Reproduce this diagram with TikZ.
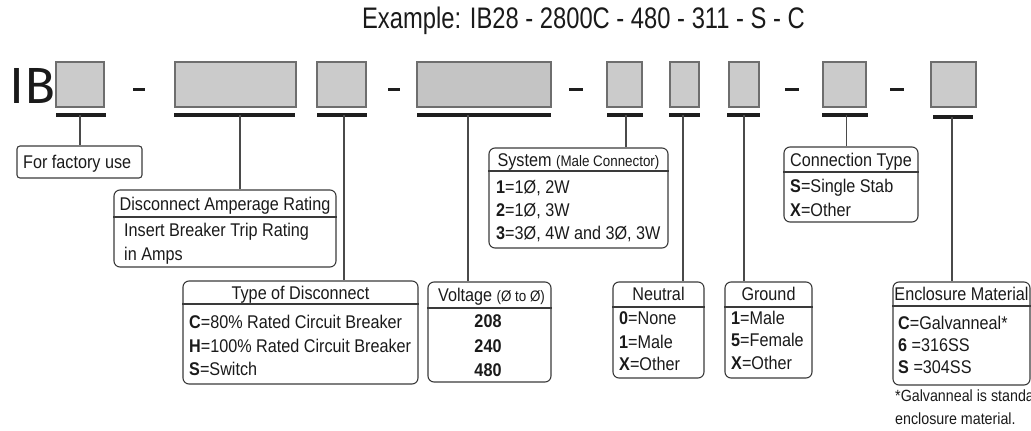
\documentclass[tikz,border=0pt]{standalone}
\usepackage{fontspec}
\setmainfont{Liberation Sans}[FakeStretch=0.88]
\newfontfamily\titlefont{Liberation Sans}[FakeStretch=0.8]
\newfontfamily\ibfont{Fira Sans}
\usepackage{graphicx}
\definecolor{boxfill}{HTML}{CBCBCB}
\definecolor{boxfillb}{HTML}{C4C4C4}
\definecolor{boxborder}{HTML}{6E6E6E}
\definecolor{barcol}{HTML}{1E1E1E}
\definecolor{conncol}{HTML}{4A4A4A}
\definecolor{lbcol}{HTML}{3A3A3A}
\definecolor{txtcol}{HTML}{1A1A1A}
\newcommand\fsn{\fontsize{18.4pt}{22pt}\selectfont}
\newcommand\fss{\fontsize{15.2pt}{18pt}\selectfont}
\newcommand\fsf{\fontsize{16.2pt}{19pt}\selectfont}
\begin{document}
\begin{tikzpicture}[x=1pt,y=-1pt,
  tbox/.style={draw=boxborder, fill=boxfill, line width=2.2pt, inner sep=0pt, minimum height=45pt},
  ubar/.style={draw=barcol, line width=3.2pt},
  dashbar/.style={draw=barcol, line width=3.8pt},
  conn/.style={draw=conncol, line width=1.3pt},
  lbox/.style={draw=lbcol, line width=1.1pt, rounded corners=6pt, inner sep=0pt},
  sepline/.style={draw=lbcol, line width=1.1pt},
  txt/.style={inner sep=0pt, anchor=base west, font=\fsn, text=txtcol},
  hdr/.style={inner sep=0pt, anchor=base, font=\fsn, text=txtcol},
  foot/.style={inner sep=0pt, anchor=base west, font=\fsf, text=txtcol}]
\useasboundingbox (0,0) rectangle (1031,431);

% title
\node[inner sep=0pt, anchor=base, text=txtcol, font={\titlefont\fontsize{29.7pt}{34pt}\selectfont}] (title) at (583.5,28) {Example: IB28 - 2800C - 480 - 311 - S - C};

% IB prefix
\node[inner sep=0pt, anchor=base west, text=txtcol] (ib) at (9,103) {\resizebox{!}{35pt}{\ibfont IB}};

% top code boxes
\node[tbox, minimum width=48pt] (b1) at (80,84.5) {};
\node[tbox, minimum width=121pt] (b2) at (235.5,84.5) {};
\node[tbox, minimum width=49pt] (b3) at (341.5,84.5) {};
\node[tbox, fill=boxfillb, minimum width=134pt] (b4) at (484,84.5) {};
\node[tbox, minimum width=35pt] (b5) at (624.5,84.5) {};
\node[tbox, minimum width=29pt] (b6) at (684.5,84.5) {};
\node[tbox, minimum width=30pt] (b7) at (744,84.5) {};
\node[tbox, minimum width=43pt] (b8) at (844.5,84.5) {};
\node[tbox, minimum width=45pt] (b9) at (953.5,84.5) {};

% dashes
\draw[dashbar] (133,89.5) -- (145,89.5);
\draw[dashbar] (388,89.5) -- (400,89.5);
\draw[dashbar] (569,89.5) -- (583,89.5);
\draw[dashbar] (785,89.5) -- (799,89.5);
\draw[dashbar] (890,89.5) -- (904,89.5);

% underbars
\draw[ubar] (56,115) -- (106,115);
\draw[ubar] (174,115) -- (295,115);
\draw[ubar] (317,115) -- (367,115);
\draw[ubar] (417,115) -- (551,115);
\draw[ubar] (607,115) -- (643,115);
\draw[ubar] (669,115) -- (700,115);
\draw[ubar] (727,115) -- (760,115);
\draw[ubar] (822,115) -- (868,115);
\draw[ubar] (933,117) -- (973,117);

% connector start points
\coordinate (u1) at (80,115);
\coordinate (u2) at (240,115);
\coordinate (u3) at (344,115);
\coordinate (u4) at (468,115);
\coordinate (u5) at (626,115);
\coordinate (u6) at (683,115);
\coordinate (u7) at (744,115);
\coordinate (u8) at (846.5,115);
\coordinate (u9) at (952,117);

% lower boxes
\node[lbox, rounded corners=3pt, minimum width=125pt, minimum height=32pt] (fac) at (79.5,162) {};
\node[lbox, minimum width=222pt, minimum height=77pt] (dar) at (225,228.5) {};
\node[lbox, minimum width=235pt, minimum height=103pt] (tod) at (300.5,332.5) {};
\node[lbox, minimum width=123pt, minimum height=100pt] (volt) at (489.5,332) {};
\node[lbox, minimum width=179pt, minimum height=100pt] (sys) at (578.5,198) {};
\node[lbox, minimum width=91pt, minimum height=96pt] (neu) at (658.5,330) {};
\node[lbox, minimum width=87pt, minimum height=96pt] (gnd) at (768.5,330) {};
\node[lbox, minimum width=134pt, minimum height=75pt] (con) at (851,184.5) {};
\node[lbox, minimum width=137pt, minimum height=103pt] (enc) at (961.5,333.5) {};

% header separators
\draw[sepline] (dar.west |- 0,217) -- (dar.east |- 0,217);
\draw[sepline] (tod.west |- 0,304) -- (tod.east |- 0,304);
\draw[sepline] (volt.west |- 0,308) -- (volt.east |- 0,308);
\draw[sepline] (sys.west |- 0,171) -- (sys.east |- 0,171);
\draw[sepline] (neu.west |- 0,307) -- (neu.east |- 0,307);
\draw[sepline] (gnd.west |- 0,307) -- (gnd.east |- 0,307);
\draw[sepline] (con.west |- 0,172) -- (con.east |- 0,172);
\draw[sepline] (enc.west |- 0,306) -- (enc.east |- 0,306);

% connectors
\draw[conn] (u1) -- (u1 |- fac.north);
\draw[conn] (u2) -- (u2 |- dar.north);
\draw[conn] (u3) -- (u3 |- tod.north);
\draw[conn] (u4) -- (u4 |- volt.north);
\draw[conn] (u5) -- (u5 |- sys.north);
\draw[conn] (u6) -- (u6 |- neu.north);
\draw[conn] (u7) -- (u7 |- gnd.north);
\draw[conn] (u8) -- (u8 |- con.north);
\draw[conn] (u9) -- (u9 |- enc.north);

% texts
\node[txt] (tfac) at (23,168.6) {For factory use};

\node[hdr] (hdar) at (225,210.6) {Disconnect Amperage Rating};
\node[txt] (dar1) at (124,236.6) {Insert Breaker Trip Rating};
\node[txt] (dar2) at (124,260.6) {in Amps};

\node[hdr] (htod) at (300.5,299.6) {Type of Disconnect};
\node[txt] (tod1) at (189,328.6) {\textbf{C}=80\% Rated Circuit Breaker};
\node[txt] (tod2) at (189,352.6) {\textbf{H}=100\% Rated Circuit Breaker};
\node[txt] (tod3) at (189,375.6) {\textbf{S}=Switch};

\node[hdr] (hvolt) at (491.5,301.6) {Voltage {\fss(Ø to Ø)}};
\node[hdr, font=\fsn\bfseries] (volt1) at (488,327.6) {208};
\node[hdr, font=\fsn\bfseries] (volt2) at (488,352.1) {240};
\node[hdr, font=\fsn\bfseries] (volt3) at (488,376.6) {480};

\node[hdr] (hsys) at (578.5,166.6) {System {\fss(Male Connector)}};
\node[txt] (sys1) at (496,193.6) {\textbf{1}=1Ø, 2W};
\node[txt] (sys2) at (496,216.6) {\textbf{2}=1Ø, 3W};
\node[txt] (sys3) at (496,239.6) {\textbf{3}=3Ø, 4W and 3Ø, 3W};

\node[hdr] (hneu) at (658.5,300.6) {Neutral};
\node[txt] (neu1) at (619,324.6) {\textbf{0}=None};
\node[txt] (neu2) at (619,348.6) {\textbf{1}=Male};
\node[txt] (neu3) at (619,370.6) {\textbf{X}=Other};

\node[hdr] (hgnd) at (768.5,300.6) {Ground};
\node[txt] (gnd1) at (731,324.6) {\textbf{1}=Male};
\node[txt] (gnd2) at (731,346.6) {\textbf{5}=Female};
\node[txt] (gnd3) at (731,369.6) {\textbf{X}=Other};

\node[hdr] (hcon) at (851,166.6) {Connection Type};
\node[txt] (con1) at (790,192.6) {\textbf{S}=Single Stab};
\node[txt] (con2) at (790,216.6) {\textbf{X}=Other};

\node[hdr] (henc) at (961.5,300.6) {Enclosure Material};
\node[txt] (enc1) at (898,329.6) {\textbf{C}=Galvanneal*};
\node[txt] (enc2) at (898,351.6) {\textbf{6} =316SS};
\node[txt] (enc3) at (898,373.6) {\textbf{S} =304SS};

\node[foot] (fn1) at (895,401) {*Galvanneal is standard};
\node[foot] (fn2) at (895,424) {enclosure material.};
\end{tikzpicture}
\end{document}
